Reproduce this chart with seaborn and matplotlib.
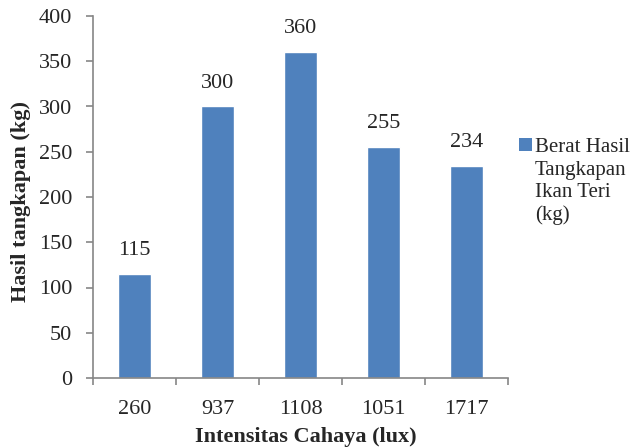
import matplotlib
matplotlib.use("Agg")
import matplotlib.pyplot as plt
import seaborn as sns
import pandas as pd
from matplotlib.patches import Patch
from matplotlib.ticker import FixedLocator

categories = ["260", "937", "1108", "1051", "1717"]
values = [115, 300, 360, 255, 234]
series_lines = ["Berat Hasil", "Tangkapan", "Ikan Teri", "(kg)"]
x_label = "Intensitas Cahaya (lux)"
y_label = "Hasil tangkapan (kg)"

sns.set_style("white")
plt.rcParams["font.family"] = ["Liberation Serif", "DejaVu Serif"]

bar_color = "#4F81BD"
spine_color = "#868686"
FS = 16
LFS = 15

df = pd.DataFrame({"cat": categories, "val": values})

W, H = 631, 448
fig = plt.figure(figsize=(W / 100, H / 100), dpi=100)
ax = fig.add_axes([93 / W, 70 / H, 415 / W, 362 / H])
sns.barplot(data=df, x="cat", y="val", order=categories, color=bar_color,
            saturation=1, width=0.39, ax=ax)

ax.set_xlim(-0.5, len(categories) - 0.5)
ax.set_ylim(0, 400)
ax.set_yticks(range(0, 401, 50))
ax.tick_params(axis="y", direction="out", length=5, width=1.2, color=spine_color,
               labelsize=FS, pad=10, left=True)
ax.tick_params(axis="x", which="major", length=0, labelsize=FS, pad=16)
ax.xaxis.set_minor_locator(FixedLocator([i - 0.5 for i in range(len(categories) + 1)]))
ax.tick_params(axis="x", which="minor", direction="out", length=5, width=1.2,
               color=spine_color, bottom=True)

for s in ["top", "right"]:
    ax.spines[s].set_visible(False)
for s in ["left", "bottom"]:
    ax.spines[s].set_color(spine_color)
    ax.spines[s].set_linewidth(1.2)

for i, v in enumerate(values):
    ax.annotate(str(v), (i, v), xytext=(0, 10), textcoords="offset points",
                ha="center", va="bottom", fontsize=FS)

ax.set_xlabel(x_label, fontsize=FS, fontweight="bold")
ax.set_ylabel(y_label, fontsize=FS, fontweight="bold")
ax.xaxis.set_label_coords((306 - 93) / 415, (378 - 437) / 362)
ax.yaxis.set_label_coords((21 - 93) / 415, (378 - 201) / 362)
ax.xaxis.label.set_va("center")
ax.yaxis.label.set_va("center")

handle = Patch(facecolor=bar_color, edgecolor="none")
leg = fig.legend([handle], [series_lines[0]], loc="upper left",
                 bbox_to_anchor=(519 / W, (H - 138) / H),
                 frameon=False, fontsize=LFS, handlelength=0.6, handleheight=0.6,
                 handletextpad=0.15, borderpad=0, borderaxespad=0)
fig.canvas.draw()
bb = leg.get_texts()[0].get_window_extent()
for k, line in enumerate(series_lines[1:], start=1):
    fig.text(bb.x0 / W, (bb.y0 - k * 22.7) / H, line, fontsize=LFS,
             ha="left", va="bottom")

fig.savefig("out.png", dpi=100)
